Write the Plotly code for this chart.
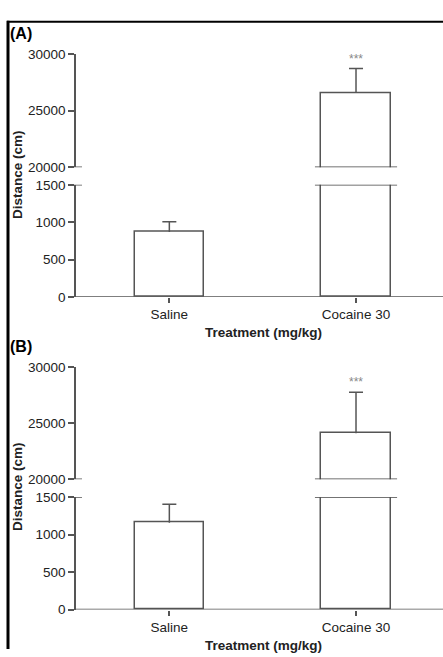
import plotly.graph_objects as go

# Treatment groups and locomotor distance (mean, SEM) for two experiments
treatments = ["Saline", "Cocaine 30"]
panel_labels = ["(A)", "(B)"]
mean_a = [870, 26580]
sem_a = [135, 2150]
mean_b = [1160, 24100]
sem_b = [245, 3640]
signif = ["", "***"]

upper_ticks = [20000, 25000, 30000]
lower_ticks = [0, 500, 1000, 1500]
upper_range = [20000, 30000]
lower_range = [0, 1500]

W, H = 443, 657
FONT = "Liberation Sans, Arial, sans-serif"
LINE = "#555555"
TXT = "#222222"


def py(p):
    """pixel row -> paper y"""
    return 1 - p / H


def px(p):
    return p / W


fig = go.Figure()

# Panel layout in pixel rows: (upper top, upper bottom, lower top, lower bottom)
panels = [
    dict(means=mean_a, sems=sem_a, label=panel_labels[0],
         rows=(48.3, 164.0, 182.0, 296.7), xs=("x", "x2"), ys=("y", "y2")),
    dict(means=mean_b, sems=sem_b, label=panel_labels[1],
         rows=(368.3, 483.3, 501.7, 616.7), xs=("x3", "x4"), ys=("y3", "y4")),
]

xpos = list(range(len(treatments)))
x_domain = [px(76), 1.0]
x_range = [-0.5, 1.466]
bar_w = 0.37
break_half = 0.22

layout_axes = {}
shapes = []
annotations = []

for i, p in enumerate(panels):
    up_top, up_bot, lo_top, lo_bot = p["rows"]
    x_lo, x_up = p["xs"]
    y_up, y_lo = p["ys"]
    tops = [m + s for m, s in zip(p["means"], p["sems"])]

    for xa, ya in [(x_lo, y_lo), (x_up, y_up)]:
        fig.add_trace(go.Bar(
            x=xpos, y=p["means"], width=bar_w,
            xaxis=xa, yaxis=ya,
            marker=dict(color="white", line=dict(color=LINE, width=1.5)),
            showlegend=False, hoverinfo="skip",
        ))
        # upward-only SEM: stick from the bar top, cap at mean + SEM
        fig.add_trace(go.Scatter(
            x=xpos, y=tops, xaxis=xa, yaxis=ya, mode="markers",
            marker=dict(symbol="line-ew", size=10, color=LINE,
                        line=dict(color=LINE, width=1.5)),
            error_y=dict(type="data", symmetric=False,
                         array=[0] * len(tops), arrayminus=p["sems"],
                         color=LINE, thickness=1.5, width=0),
            showlegend=False, hoverinfo="skip",
        ))

    def xkey(a):
        return "xaxis" if a == "x" else "xaxis" + a[1:]

    def ykey(a):
        return "yaxis" if a == "y" else "yaxis" + a[1:]

    layout_axes[xkey(x_lo)] = dict(
        domain=x_domain, range=x_range, anchor=y_lo,
        tickvals=xpos, ticktext=treatments,
        showline=False,
        ticks="outside", ticklen=5, tickcolor=LINE, tickwidth=1.5,
        tickfont=dict(family=FONT, size=13.5, color=TXT),
        showgrid=False, zeroline=False, fixedrange=True,
    )
    layout_axes[xkey(x_up)] = dict(
        domain=x_domain, range=x_range, anchor=y_up, matches=x_lo,
        visible=False, showgrid=False, zeroline=False,
    )
    common_y = dict(
        showline=True, linecolor=LINE, linewidth=1.5,
        ticks="outside", ticklen=6, tickcolor=LINE, tickwidth=1.5,
        tickfont=dict(family=FONT, size=13.5, color=TXT),
        showgrid=False, zeroline=False, fixedrange=True,
    )
    layout_axes[ykey(y_up)] = dict(
        domain=[py(up_bot), py(up_top)], range=upper_range, anchor=x_up,
        tickvals=upper_ticks, ticktext=[str(v) for v in upper_ticks],
        **common_y,
    )
    layout_axes[ykey(y_lo)] = dict(
        domain=[py(lo_bot), py(lo_top)], range=lower_range, anchor=x_lo,
        tickvals=lower_ticks, ticktext=[str(v) for v in lower_ticks],
        **common_y,
    )

    # baseline of the lower axis, drawn at zero so bar bottoms sit on it
    shapes.append(dict(type="line", xref="paper", yref=y_lo,
                       x0=x_domain[0] - px(0.75), x1=1.0,
                       y0=lower_range[0], y1=lower_range[0],
                       line=dict(color=LINE, width=1.5)))

    # axis-break marks crossing the y axis
    for ya, val in [(y_up, upper_range[0]), (y_lo, lower_range[1])]:
        shapes.append(dict(type="line", xref="paper", yref=ya,
                           x0=px(70), x1=px(82), y0=val, y1=val,
                           line=dict(color=LINE, width=1.5)))

    # break lines across bars that exceed the lower range
    for j, m in enumerate(p["means"]):
        if m > lower_range[1]:
            shapes.append(dict(type="line", xref=x_up, yref=y_up,
                               x0=j - break_half, x1=j + break_half,
                               y0=upper_range[0], y1=upper_range[0],
                               line=dict(color="#444444", width=1.5)))
            shapes.append(dict(type="line", xref=x_lo, yref=y_lo,
                               x0=j - break_half, x1=j + break_half,
                               y0=lower_range[1], y1=lower_range[1],
                               line=dict(color="#444444", width=1.5)))
        if signif[j]:
            in_upper = m > lower_range[1]
            annotations.append(dict(
                x=j, y=tops[j],
                xref=x_up if in_upper else x_lo,
                yref=y_up if in_upper else y_lo,
                text=signif[j], showarrow=False, yshift=10,
                font=dict(family=FONT, size=12, color="#888888"),
            ))

    # panel letter
    annotations.append(dict(
        x=px(8), y=py(up_top - 21), xref="paper", yref="paper",
        text="<b>" + p["label"] + "</b>", showarrow=False,
        xanchor="left", yanchor="middle",
        font=dict(family=FONT, size=16, color="black"),
    ))
    # x axis title
    annotations.append(dict(
        x=px(263.5), y=py(lo_bot + 36.5), xref="paper", yref="paper",
        text="<b>Treatment (mg/kg)</b>", showarrow=False,
        xanchor="center", yanchor="middle",
        font=dict(family=FONT, size=13.5, color=TXT),
    ))
    # y axis title
    annotations.append(dict(
        x=px(17), y=py(up_bot + 8), xref="paper", yref="paper",
        text="<b>Distance (cm)</b>", showarrow=False, textangle=-90,
        xanchor="center", yanchor="middle",
        font=dict(family=FONT, size=13.5, color=TXT),
    ))

# outer frame: top rule and left rule
shapes.append(dict(type="line", xref="paper", yref="paper",
                   x0=px(7), x1=1.0, y0=py(15), y1=py(15),
                   line=dict(color="black", width=2)))
shapes.append(dict(type="line", xref="paper", yref="paper",
                   x0=px(8), x1=px(8), y0=py(14), y1=0,
                   line=dict(color="black", width=3)))

fig.update_layout(
    width=W, height=H,
    margin=dict(l=0, r=0, t=0, b=0),
    paper_bgcolor="white", plot_bgcolor="white",
    shapes=shapes, annotations=annotations,
    bargap=0, **layout_axes,
)

fig.write_html("out.html", config=dict(displayModeBar=False))
